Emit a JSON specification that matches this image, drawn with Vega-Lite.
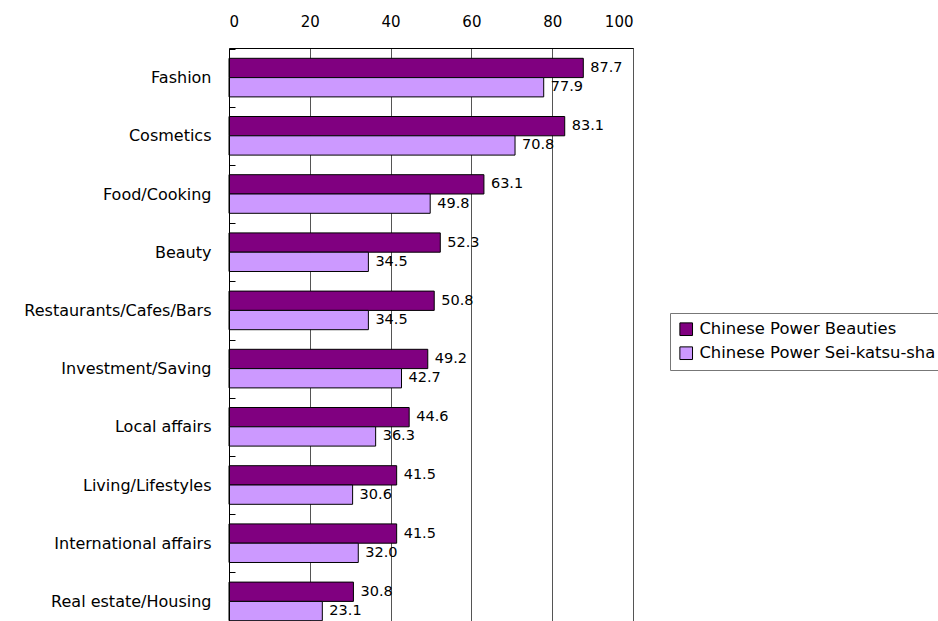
{
  "$schema": "https://vega.github.io/schema/vega-lite/v6.json",
  "autosize": {"type": "none"},
  "padding": {"left": 229, "top": 48, "right": 305, "bottom": 0},
  "width": 404,
  "height": 573,
  "background": "white",
  "config": {
    "view": {"stroke": "#333", "strokeWidth": 1},
    "font": "DejaVu Sans"
  },
  "data": {
    "values": [
      {"category": "Fashion", "series": "Chinese Power Beauties", "value": 87.7},
      {"category": "Fashion", "series": "Chinese Power Sei-katsu-sha", "value": 77.9},
      {"category": "Cosmetics", "series": "Chinese Power Beauties", "value": 83.1},
      {"category": "Cosmetics", "series": "Chinese Power Sei-katsu-sha", "value": 70.8},
      {"category": "Food/Cooking", "series": "Chinese Power Beauties", "value": 63.1},
      {"category": "Food/Cooking", "series": "Chinese Power Sei-katsu-sha", "value": 49.8},
      {"category": "Beauty", "series": "Chinese Power Beauties", "value": 52.3},
      {"category": "Beauty", "series": "Chinese Power Sei-katsu-sha", "value": 34.5},
      {"category": "Restaurants/Cafes/Bars", "series": "Chinese Power Beauties", "value": 50.8},
      {"category": "Restaurants/Cafes/Bars", "series": "Chinese Power Sei-katsu-sha", "value": 34.5},
      {"category": "Investment/Saving", "series": "Chinese Power Beauties", "value": 49.2},
      {"category": "Investment/Saving", "series": "Chinese Power Sei-katsu-sha", "value": 42.7},
      {"category": "Local affairs", "series": "Chinese Power Beauties", "value": 44.6},
      {"category": "Local affairs", "series": "Chinese Power Sei-katsu-sha", "value": 36.3},
      {"category": "Living/Lifestyles", "series": "Chinese Power Beauties", "value": 41.5},
      {"category": "Living/Lifestyles", "series": "Chinese Power Sei-katsu-sha", "value": 30.6},
      {"category": "International affairs", "series": "Chinese Power Beauties", "value": 41.5},
      {"category": "International affairs", "series": "Chinese Power Sei-katsu-sha", "value": 32.0},
      {"category": "Real estate/Housing", "series": "Chinese Power Beauties", "value": 30.8},
      {"category": "Real estate/Housing", "series": "Chinese Power Sei-katsu-sha", "value": 23.1}
    ]
  },
  "encoding": {
    "y": {
      "field": "category",
      "type": "nominal",
      "sort": null,
      "scale": {"range": [0.5, 582.5], "paddingInner": 0, "paddingOuter": 0},
      "axis": {
        "title": null,
        "domainColor": "black",
        "tickBand": "extent",
        "tickColor": "black",
        "tickSize": -6,
        "labelPadding": 24,
        "labelLimit": 400,
        "labelFont": "DejaVu Sans",
        "labelFontSize": 16,
        "labelColor": "black",
        "grid": false,
        "zindex": 1
      }
    },
    "yOffset": {
      "field": "series",
      "type": "nominal",
      "scale": {"domain": ["Chinese Power Beauties", "Chinese Power Sei-katsu-sha"], "paddingInner": 0, "paddingOuter": 0.508}
    },
    "x": {
      "field": "value",
      "type": "quantitative",
      "scale": {"domain": [0, 100], "nice": false, "zero": true},
      "axis": {
        "orient": "top",
        "title": null,
        "values": [0, 20, 40, 60, 80, 100],
        "ticks": false,
        "labelPadding": 19,
        "labelFont": "DejaVu Sans",
        "labelFontSize": 15,
        "labelColor": "black",
        "domainColor": "black",
        "grid": true,
        "gridColor": "#555",
        "gridOpacity": 1
      }
    }
  },
  "layer": [
    {
      "mark": {"type": "bar", "stroke": "black", "strokeWidth": 1},
      "encoding": {
        "color": {
          "field": "series",
          "type": "nominal",
          "scale": {"domain": ["Chinese Power Beauties", "Chinese Power Sei-katsu-sha"], "range": ["#800080", "#CC99FF"]},
          "legend": {
            "title": null,
            "orient": "none",
            "legendX": 441,
            "legendY": 265,
            "fillColor": "white",
            "strokeColor": "#777",
            "padding": 8,
            "symbolType": "square",
            "symbolSize": 160,
            "symbolStrokeColor": "black",
            "symbolStrokeWidth": 1,
            "symbolOpacity": 1,
            "labelFont": "DejaVu Sans",
            "labelFontSize": 16.4,
            "labelColor": "black",
            "labelOffset": 5,
            "rowPadding": 6,
            "labelLimit": 400
          }
        }
      }
    },
    {
      "mark": {"type": "text", "align": "left", "baseline": "middle", "dx": 7, "fontSize": 14.5, "font": "DejaVu Sans", "color": "black"},
      "encoding": {
        "text": {"field": "value", "type": "quantitative", "format": ".1f"}
      }
    }
  ]
}
